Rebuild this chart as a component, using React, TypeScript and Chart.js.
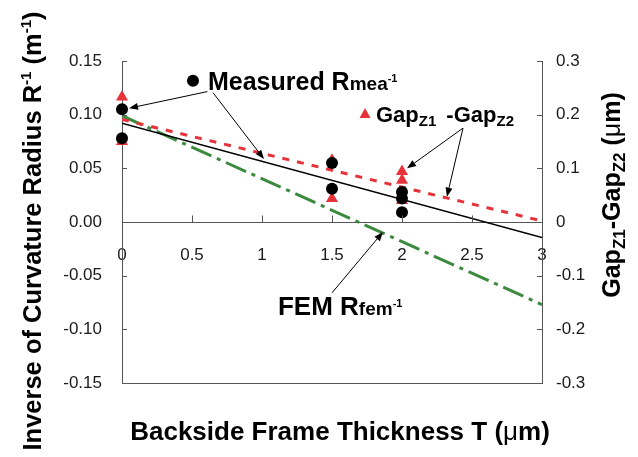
import React, { useEffect, useRef } from 'react';
import { Chart, registerables } from 'chart.js';

Chart.register(...registerables);

const FONT = '"Liberation Sans", Arial, Helvetica, sans-serif';
const RED = '#e8323a';
const GREEN = '#3b8a3e';
const AXIS = '#555';
const TEXT = '#1a1a1a';

// ---- data ----
const measuredX = [0, 0, 1.5, 1.5, 2, 2, 2];
const measuredY = [0.105, 0.078, 0.055, 0.031, 0.028, 0.022, 0.009];
const gapX = [0, 0, 1.5, 1.5, 2, 2, 2];
const gapY = [0.233, 0.15, 0.115, 0.044, 0.094, 0.078, 0.04];
const fitX = [0, 3];
const measuredFit = [0.092, -0.0145];
const gapFit = [0.191, 0.002];
const femFit = [0.099, -0.077];

const xMin = 0, xMax = 3, xStep = 0.5;
const leftMin = -0.15, leftMax = 0.15, leftStep = 0.05;
const rightMin = -0.3, rightMax = 0.3, rightStep = 0.1;

type Seg = { t: string; size: number; bold?: boolean; dy?: number; dx?: number };

const fontOf = (s: Seg) => `${s.bold === false ? '' : 'bold '}${s.size}px ${FONT}`;

function richWidth(ctx: CanvasRenderingContext2D, segs: Seg[]) {
  let w = 0;
  for (const s of segs) {
    ctx.font = fontOf(s);
    w += (s.dx || 0) + ctx.measureText(s.t).width;
  }
  return w;
}

function drawRich(ctx: CanvasRenderingContext2D, segs: Seg[], x: number, y: number, align: 'left' | 'center') {
  let cx = align === 'center' ? x - richWidth(ctx, segs) / 2 : x;
  ctx.textAlign = 'left';
  ctx.textBaseline = 'alphabetic';
  for (const s of segs) {
    ctx.font = fontOf(s);
    cx += s.dx || 0;
    ctx.fillText(s.t, cx, y + (s.dy || 0));
    cx += ctx.measureText(s.t).width;
  }
}

function arrow(ctx: CanvasRenderingContext2D, x1: number, y1: number, x2: number, y2: number) {
  const ang = Math.atan2(y2 - y1, x2 - x1);
  const L = 9, W = 3.5;
  const bx = x2 - Math.cos(ang) * L, by = y2 - Math.sin(ang) * L;
  ctx.beginPath();
  ctx.moveTo(x1, y1);
  ctx.lineTo(bx, by);
  ctx.stroke();
  ctx.beginPath();
  ctx.moveTo(x2, y2);
  ctx.lineTo(bx - Math.sin(ang) * W, by + Math.cos(ang) * W);
  ctx.lineTo(bx + Math.sin(ang) * W, by - Math.cos(ang) * W);
  ctx.closePath();
  ctx.fill();
}

const sup = (t: string, size = 11): Seg => ({ t, size, dy: -8 });
const sub = (t: string, size = 15): Seg => ({ t, size, dy: 4 });

const decorPlugin = {
  id: 'decor',
  afterDraw(chart: any) {
    const { ctx, chartArea: a, scales } = chart;
    const xs = scales.x, yl = scales.y, yr = scales.y2;
    const X = (v: number) => xs.getPixelForValue(v);
    const Y = (v: number) => yl.getPixelForValue(v);
    ctx.save();
    ctx.strokeStyle = AXIS;
    ctx.lineWidth = 1;
    // bottom frame line
    ctx.beginPath();
    ctx.moveTo(a.left, Math.round(a.bottom) + 0.5);
    ctx.lineTo(a.right, Math.round(a.bottom) + 0.5);
    ctx.stroke();
    // tick marks
    ctx.beginPath();
    for (const t of yl.ticks) {
      const p = Math.round(yl.getPixelForValue(t.value)) + 0.5;
      ctx.moveTo(a.left, p);
      ctx.lineTo(a.left + 5, p);
    }
    for (const t of yr.ticks) {
      const p = Math.round(yr.getPixelForValue(t.value)) + 0.5;
      ctx.moveTo(a.right - 5, p);
      ctx.lineTo(a.right, p);
    }
    const y0 = Math.round(Y(0)) + 0.5;
    for (const t of xs.ticks) {
      const p = Math.round(X(t.value)) + 0.5;
      ctx.moveTo(p, y0);
      ctx.lineTo(p, y0 - 7);
    }
    ctx.stroke();

    ctx.fillStyle = '#000';
    ctx.strokeStyle = '#000';
    ctx.lineWidth = 1;

    // Measured annotation
    ctx.beginPath();
    ctx.arc(X(0.507), Y(0.1316), 6, 0, Math.PI * 2);
    ctx.fill();
    drawRich(ctx, [{ t: 'Measured R', size: 25 }, { t: 'mea', size: 19 }, sup('-1')], X(0.614), Y(0.1229), 'left');
    arrow(ctx, X(0.61), Y(0.1215), X(0.05), Y(0.106));
    arrow(ctx, X(0.65), Y(0.1205), X(1.014), Y(0.0587));

    // Gap annotation
    ctx.fillStyle = RED;
    const tx = X(1.736), ty = Y(0.1012);
    ctx.beginPath();
    ctx.moveTo(tx, ty - 5.5);
    ctx.lineTo(tx + 5.5, ty + 4.5);
    ctx.lineTo(tx - 5.5, ty + 4.5);
    ctx.closePath();
    ctx.fill();
    ctx.fillStyle = '#000';
    drawRich(ctx, [{ t: 'Gap', size: 22 }, sub('Z1'), { t: ' -Gap', size: 22, dx: 4 }, sub('Z2')], X(1.814), Y(0.0934), 'left');
    arrow(ctx, X(2.436), Y(0.0875), X(2.036), Y(0.05));
    arrow(ctx, X(2.436), Y(0.0875), X(2.321), Y(0.0236));

    // FEM annotation
    drawRich(ctx, [{ t: 'FEM R', size: 26 }, { t: 'fem', size: 19 }, sup('-1')], X(1.114), Y(-0.0866), 'left');
    arrow(ctx, X(1.5), Y(-0.066), X(1.864), Y(-0.0093));

    // axis titles
    ctx.fillStyle = '#000';
    drawRich(ctx, [{ t: 'Backside Frame Thickness T (', size: 26 }, { t: 'μ', size: 26, bold: false }, { t: 'm)', size: 26 }], 340, 440, 'center');

    ctx.save();
    ctx.translate(41, 231);
    ctx.rotate(-Math.PI / 2);
    drawRich(ctx, [
      { t: 'Inverse of Curvature Radius R', size: 25.5 },
      { t: '-1', size: 15, dy: -10 },
      { t: ' (m', size: 25.5 },
      { t: '-1', size: 15, dy: -10 },
      { t: ')', size: 25.5 },
    ], 0, 0, 'center');
    ctx.restore();

    ctx.save();
    ctx.translate(620, 195);
    ctx.rotate(-Math.PI / 2);
    drawRich(ctx, [
      { t: 'Gap', size: 25 },
      { t: 'Z1', size: 17, dy: 5 },
      { t: '-Gap', size: 25 },
      { t: 'Z2', size: 17, dy: 5 },
      { t: ' (', size: 25 },
      { t: 'μ', size: 25, bold: false },
      { t: 'm)', size: 25 },
    ], 0, 0, 'center');
    ctx.restore();

    ctx.restore();
  },
};

const pts = (xs: number[], ys: number[]) => xs.map((x, i) => ({ x, y: ys[i] }));

export default function App() {
  const ref = useRef<HTMLCanvasElement | null>(null);
  useEffect(() => {
    if (!ref.current) return;
    const tickFont = { size: 17, family: FONT };
    const chart = new Chart(ref.current, {
      type: 'scatter',
      data: {
        datasets: [
          {
            label: 'Measured', data: pts(measuredX, measuredY), yAxisID: 'y',
            pointStyle: 'circle', pointRadius: 6, backgroundColor: '#000', borderWidth: 0, clip: false,
          } as any,
          {
            label: 'Gap', data: pts(gapX, gapY), yAxisID: 'y2',
            pointStyle: 'triangle', pointRadius: 7, backgroundColor: RED, borderWidth: 0, clip: false,
          },
          {
            label: 'Measured fit', data: pts(fitX, measuredFit), yAxisID: 'y', showLine: true,
            borderColor: '#000', borderWidth: 1.5, pointRadius: 0,
          },
          {
            label: 'Gap fit', data: pts(fitX, gapFit), yAxisID: 'y2', showLine: true,
            borderColor: RED, borderWidth: 3, borderDash: [7, 8], pointRadius: 0,
          },
          {
            label: 'FEM', data: pts(fitX, femFit), yAxisID: 'y', showLine: true,
            borderColor: GREEN, borderWidth: 3, borderDash: [22, 6, 4, 6], pointRadius: 0,
          },
        ],
      },
      options: {
        responsive: false,
        animation: false,
        devicePixelRatio: 1,
        layout: { padding: { top: 61, bottom: 74, left: 0, right: 0 } },
        plugins: { legend: { display: false }, tooltip: { enabled: false } },
        scales: {
          x: {
            type: 'linear', position: { y: 0 } as any, min: xMin, max: xMax,
            ticks: { stepSize: xStep, font: tickFont, color: TEXT, padding: 23, autoSkip: false, maxRotation: 0, callback: (v: any) => String(v) },
            grid: { drawOnChartArea: false, drawTicks: false },
            border: { color: AXIS, width: 1 },
          },
          y: {
            type: 'linear', position: 'left', min: leftMin, max: leftMax,
            ticks: { stepSize: leftStep, font: tickFont, color: TEXT, padding: 20, callback: (v: any) => (Math.abs(v) < 1e-9 ? 0 : v).toFixed(2) },
            grid: { drawOnChartArea: false, drawTicks: false },
            border: { color: AXIS, width: 1 },
            afterFit: (s: any) => { s.width = 122; },
          },
          y2: {
            type: 'linear', position: 'right', min: rightMin, max: rightMax,
            ticks: { stepSize: rightStep, font: tickFont, color: TEXT, padding: 14, callback: (v: any) => String(Math.round(v * 10) / 10) },
            grid: { drawOnChartArea: false, drawTicks: false },
            border: { color: AXIS, width: 1 },
            afterFit: (s: any) => { s.width = 96; },
          },
        },
      } as any,
      plugins: [decorPlugin],
    });
    return () => chart.destroy();
  }, []);
  return (
    <div style={{ position: 'fixed', left: 0, top: 0, width: 638, height: 457, background: '#fff' }}>
      <canvas ref={ref} width={638} height={457} style={{ display: 'block' }} />
    </div>
  );
}
